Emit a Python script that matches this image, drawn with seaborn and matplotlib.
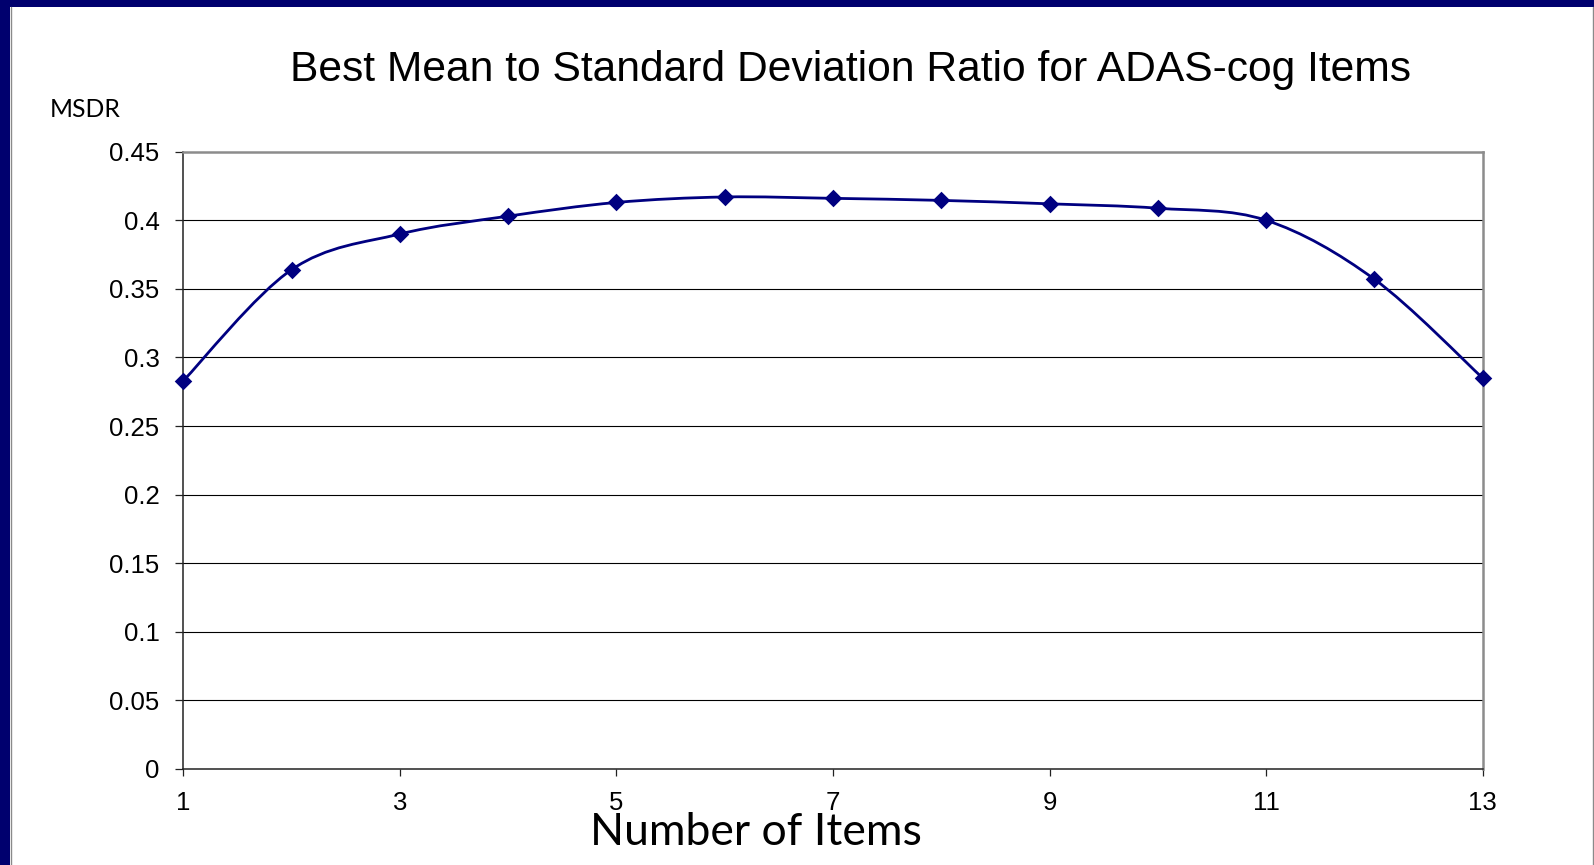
import numpy as np
import matplotlib
matplotlib.use("Agg")
import matplotlib.pyplot as plt
from matplotlib.path import Path
from matplotlib.patches import PathPatch, Rectangle
from matplotlib.lines import Line2D
import seaborn as sns
import pandas as pd

# Number of ADAS-cog items kept and the best mean-to-SD ratio found
n_items = [1, 2, 3, 4, 5, 6, 7, 8, 9, 10, 11, 12, 13]
msdr = [0.283, 0.364, 0.390, 0.403, 0.413, 0.417, 0.416, 0.4145, 0.412, 0.4088, 0.400, 0.357, 0.285]

x_tick_values = [1, 3, 5, 7, 9, 11, 13]
y_tick_values = [0, 0.05, 0.1, 0.15, 0.2, 0.25, 0.3, 0.35, 0.4, 0.45]
y_tick_labels = ["0", "0.05", "0.1", "0.15", "0.2", "0.25", "0.3", "0.35", "0.4", "0.45"]

title = "Best Mean to Standard Deviation Ratio for ADAS-cog Items"
x_title = "Number of Items"
y_title = "MSDR"

sns.set_theme(style="white")
plt.rcParams["font.family"] = ["Liberation Sans", "DejaVu Sans"]

NAVY = "#000080"
W, H, DPI = 1594, 865, 100
fig = plt.figure(figsize=(W / DPI, H / DPI), dpi=DPI, facecolor="white")

# slide frame: navy band at top and left, thin grey edges
fig.patches.append(Rectangle((0, 1 - 7 / H), 1, 7 / H, transform=fig.transFigure,
                             facecolor="#00006E", edgecolor="none", zorder=0))
fig.patches.append(Rectangle((0, 0), 10 / W, 1, transform=fig.transFigure,
                             facecolor="#00006E", edgecolor="none", zorder=0))
fig.lines.append(Line2D([10.5 / W, 10.5 / W], [0, 1 - 7 / H], transform=fig.transFigure,
                        color="#8a8a8a", lw=1.0))
fig.lines.append(Line2D([1593 / W, 1593 / W], [0, 1 - 7 / H], transform=fig.transFigure,
                        color="#8a8a8a", lw=1.0))

left, right = 183.3 / W, 1482.7 / W
bottom, top = 1 - 769 / H, 1 - 151.7 / H
ax = fig.add_axes([left, bottom, right - left, top - bottom])
ax.set_facecolor("white")

df = pd.DataFrame({"items": n_items, "msdr": msdr})

# smoothed connecting line (cubic Bezier through every point, Catmull-Rom tangents)
xs = np.array(n_items, dtype=float)
ys = np.array(msdr, dtype=float)
verts = [(xs[0], ys[0])]
codes = [Path.MOVETO]
n = len(xs)
for i in range(n - 1):
    p0 = np.array([xs[max(i - 1, 0)], ys[max(i - 1, 0)]])
    p1 = np.array([xs[i], ys[i]])
    p2 = np.array([xs[i + 1], ys[i + 1]])
    p3 = np.array([xs[min(i + 2, n - 1)], ys[min(i + 2, n - 1)]])
    c1 = p1 + (p2 - p0) / 6.0
    c2 = p2 - (p3 - p1) / 6.0
    verts += [tuple(c1), tuple(c2), tuple(p2)]
    codes += [Path.CURVE4, Path.CURVE4, Path.CURVE4]
ax.add_patch(PathPatch(Path(verts, codes), facecolor="none", edgecolor=NAVY,
                       lw=2.0, zorder=3, capstyle="round", joinstyle="round"))

sns.scatterplot(data=df, x="items", y="msdr", marker="D", s=80, color=NAVY,
                edgecolor=NAVY, linewidth=0, zorder=4, ax=ax, legend=False, clip_on=False)

ax.set_xlim(1, 13)
ax.set_ylim(0, 0.45)
ax.set_xticks(x_tick_values)
ax.set_xticklabels([str(v) for v in x_tick_values])
ax.set_yticks(y_tick_values)
ax.set_yticklabels(y_tick_labels)
ax.set_xlabel("")
ax.set_ylabel("")

for yv in y_tick_values[1:-1]:
    ax.axhline(yv, color="black", lw=0.8, zorder=1)

for side in ["top", "right"]:
    ax.spines[side].set_color("#8c8c8c")
    ax.spines[side].set_linewidth(1.8)
for side in ["left", "bottom"]:
    ax.spines[side].set_color("#222222")
    ax.spines[side].set_linewidth(1.1)

ax.tick_params(axis="y", which="major", direction="out", length=5.8, width=0.9,
               color="#222222", pad=11.3, labelsize=18.5, left=True, labelcolor="black")
ax.tick_params(axis="x", which="major", direction="out", length=5.0, width=0.9,
               color="#222222", pad=10.8, labelsize=18.5, bottom=True, labelcolor="black")

fig.text(851 / W, 1 - 80.7 / H, title, ha="center", va="baseline", fontsize=30.7,
         color="black")
fig.text(755.5 / W, 1 - 845 / H, x_title, ha="center", va="baseline", fontsize=32,
         family=["Lato", "DejaVu Sans"], color="black")
fig.text(50 / W, 1 - 116.7 / H, y_title, ha="left", va="baseline", fontsize=17.8,
         family=["Lato", "DejaVu Sans"], color="black")

fig.savefig("out.png", dpi=DPI, facecolor="white")
